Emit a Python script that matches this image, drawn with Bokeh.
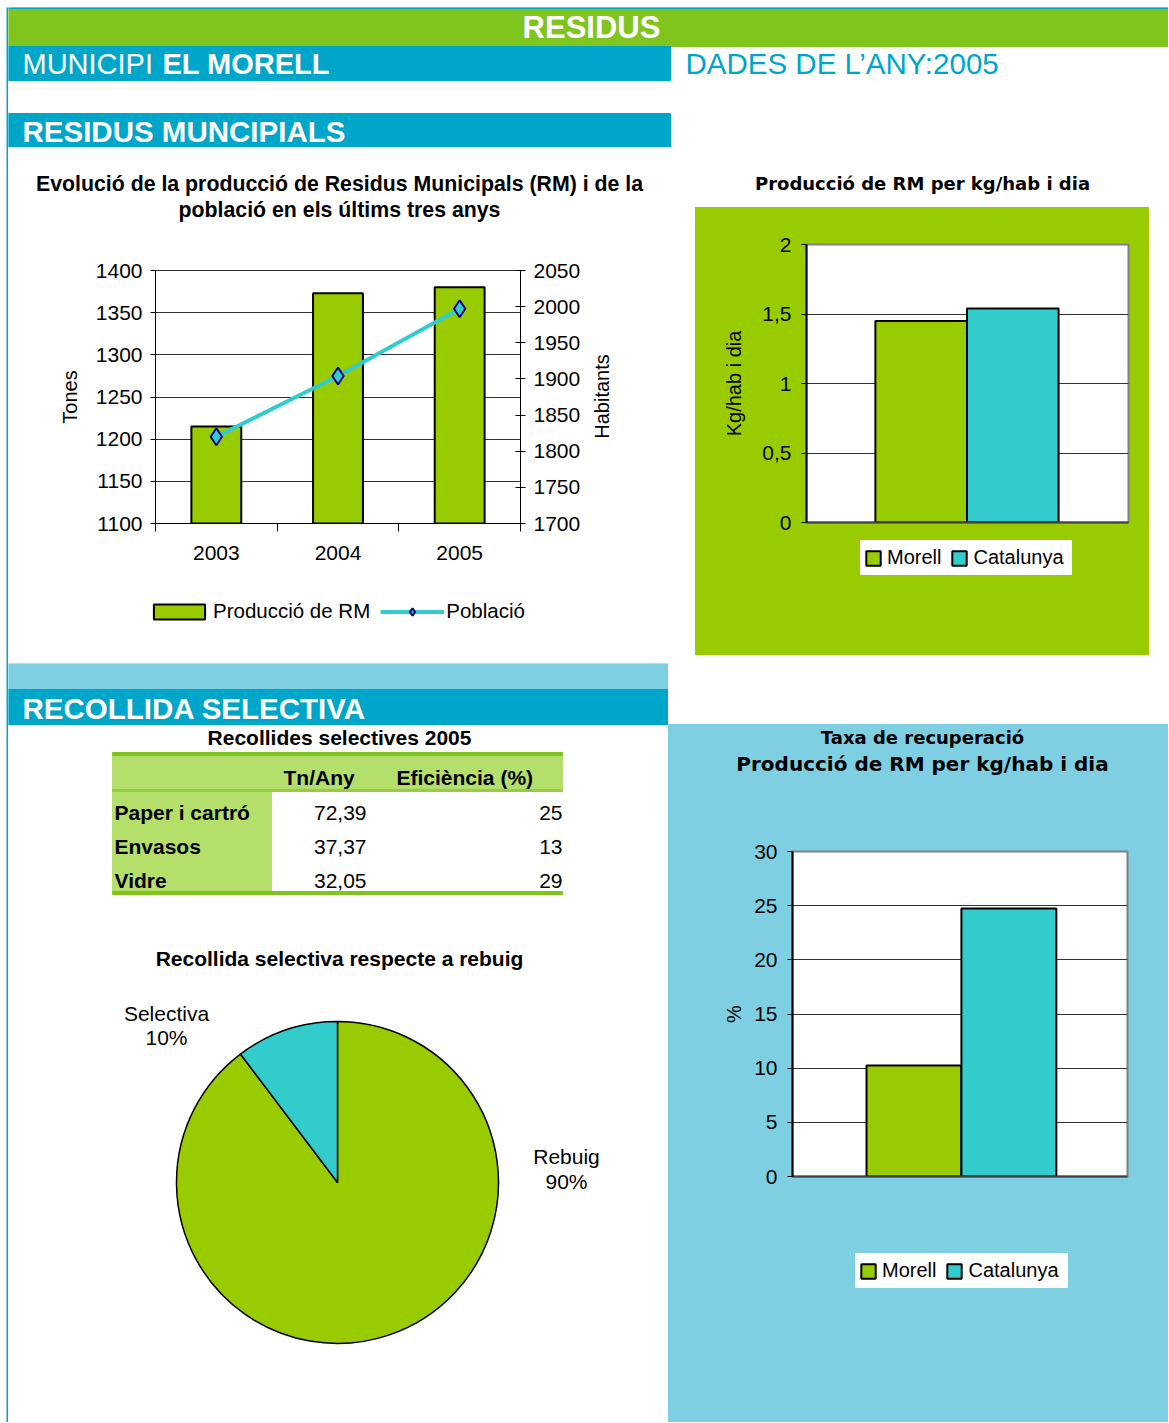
import math
import numpy as np
from bokeh.plotting import figure
from bokeh.layouts import row, column
from bokeh.models import (Range1d, LinearAxis, Plot, SingleIntervalTicker, FixedTicker, Legend,
                          LegendItem, Spacer, CustomJSTickFormatter)
from bokeh.core.properties import value
from bokeh.embed import file_html
from bokeh.resources import INLINE

# ---------------- data ----------------
years = ["2003", "2004", "2005"]
produccio_rm = [1215, 1373, 1380]      # Tones
poblacio = [1820, 1904, 1997]          # Habitants
series_names = ["Producció de RM", "Població"]
axis_names = ["Tones", "Habitants"]

kg_hab_labels = ["Morell", "Catalunya"]
kg_hab_values = [1.45, 1.54]

taxa_labels = ["Morell", "Catalunya"]
taxa_values = [10.25, 24.75]

rs_categories = ["Paper i cartró", "Envasos", "Vidre"]
rs_tn_any = [72.39, 37.37, 32.05]
rs_eficiencia = [25, 13, 29]
rs_columns = ["Tn/Any", "Eficiència (%)"]

pie_labels = ["Rebuig", "Selectiva"]
pie_values = [89.7, 10.3]

# ---------------- styles ----------------
GREEN = "#99cc00"
CYAN = "#33cccc"
PAIR_COLORS = [GREEN, CYAN]
HEAD_GREEN = "#80c41e"
BLUE = "#00a6c9"
LIGHT_BLUE = "#7fcfe3"
TABLE_GREEN = "#b4df6b"
FONT = "Liberation Sans"
FONT_W = "DejaVu Sans"
NAN = np.array([np.nan])   # placeholder so legend swatches can be drawn

COMMON = dict(toolbar_location=None, output_backend="svg")
if "frame_align" in Plot.properties():
    COMMON["frame_align"] = False


def deco(w, h, x0, y0, bg="white"):
    p = figure(width=w, height=h, x_range=Range1d(x0, x0 + w), y_range=Range1d(y0 + h, y0),
               min_border=0, min_border_left=0, min_border_right=0, min_border_top=0,
               min_border_bottom=0, x_axis_location=None, y_axis_location=None,
               background_fill_color=bg, border_fill_color=bg, outline_line_color=None, **COMMON)
    p.grid.visible = False
    return p


def txt(p, x, y, s, size, bold=False, color="black", align="left", baseline="middle", font=FONT,
        angle=0):
    xs = x if isinstance(x, list) else [x]
    ys = y if isinstance(y, list) else [y]
    ss = s if isinstance(s, list) else [s]
    p.text(x=xs, y=ys, text=ss, text_font=value(font), text_font_size=size,
           text_font_style="bold" if bold else "normal", text_color=color,
           text_align=align, text_baseline=baseline, angle=angle)


def style_axis(ax, tick_size="21px"):
    ax.major_label_text_font = FONT
    ax.major_label_text_font_size = tick_size
    ax.major_label_text_color = "black"
    ax.axis_label_text_font = FONT
    ax.axis_label_text_font_size = "20px"
    ax.axis_label_text_font_style = "normal"
    ax.axis_label_text_color = "black"
    ax.axis_line_color = "black"
    ax.major_tick_line_color = "black"
    ax.minor_tick_line_color = None


def add_legend(p, items, loc, glyph_w, glyph_h, spacing, standoff, size="20px"):
    lg = Legend(items=items, orientation="horizontal", location=loc, glyph_width=glyph_w,
                glyph_height=glyph_h, label_text_font=FONT, label_text_font_size=size,
                label_text_color="black", background_fill_alpha=0, border_line_color=None,
                padding=0, margin=0, spacing=spacing, label_standoff=standoff)
    p.add_layout(lg)
    return lg


# ---------------- left border strip ----------------
strip = deco(2, 1415, 6, 8, bg=BLUE)

# ---------------- header (ref x 8..1168, y 7..147) ----------------
H = deco(1160, 140, 8, 7)
H.quad(left=[8], right=[1168], top=[7], bottom=[9], color=BLUE)
H.quad(left=[8], right=[1168], top=[9], bottom=[46], color=HEAD_GREEN)
H.quad(left=[8], right=[670], top=[46], bottom=[80], color=BLUE)
H.quad(left=[8], right=[670], top=[113], bottom=[147], color=BLUE)
txt(H, 591, 27, "RESIDUS", "31px", bold=True, color="white", align="center")
txt(H, 22, 63, "MUNICIPI", "29px", color="white")
txt(H, 162, 63, "EL MORELL", "29px", bold=True, color="white")
txt(H, 685, 63, "DADES DE L’ANY:2005", "29.5px", color=BLUE)
txt(H, 22, 131, "RESIDUS MUNCIPIALS", "29.5px", bold=True, color="white")

# ---------------- chart 1: evolution ----------------
T1 = deco(660, 100, 8, 147)
txt(T1, 339, 183, "Evolució de la producció de Residus Municipals (RM) i de la", "21.3px",
    bold=True, align="center")
txt(T1, 339, 209, "població en els últims tres anys", "21.3px", bold=True, align="center")

x_idx = list(range(len(years)))
c1 = figure(width=582, height=330, x_range=Range1d(-0.5, len(years) - 0.5),
            y_range=Range1d(1100, 1400), min_border_left=147, min_border_right=70,
            min_border_top=23, min_border_bottom=54, outline_line_color="#333333",
            background_fill_color="white", border_fill_color="white", **COMMON)
c1.extra_y_ranges = {"hab": Range1d(1700, 2050)}
c1.xgrid.visible = False
c1.ygrid.grid_line_color = "#333333"

BAR_STYLE = dict(fill_color=GREEN, line_color="black", line_width=2)
LINE_STYLE = dict(line_color=CYAN, line_width=4)
PT_STYLE = dict(marker="diamond", size=17, fill_color=CYAN, line_color="#000080", line_width=2)

c1.vbar(x=x_idx, top=produccio_rm, bottom=1000, width=0.41, **BAR_STYLE)
c1.line(x=x_idx, y=poblacio, y_range_name="hab", **LINE_STYLE)
c1.scatter(x=x_idx, y=poblacio, y_range_name="hab", **PT_STYLE)

xa = c1.xaxis[0]
style_axis(xa)
xa.ticker = FixedTicker(ticks=x_idx, minor_ticks=[i - 0.5 for i in range(len(years) + 1)])
xa.major_label_overrides = {i: y for i, y in zip(x_idx, years)}
xa.major_tick_line_color = None
xa.minor_tick_line_color = "black"
xa.minor_tick_in = 0
xa.minor_tick_out = 8
xa.major_tick_out = 0
xa.major_label_standoff = 14

ya = c1.yaxis[0]
style_axis(ya)
ya.ticker = SingleIntervalTicker(interval=50, num_minor_ticks=0)
ya.major_tick_in = 0
ya.major_tick_out = 5
ya.major_label_standoff = 8
ya.axis_label = axis_names[0]
ya.axis_label_standoff = 12

rax = LinearAxis(y_range_name="hab", ticker=SingleIntervalTicker(interval=50, num_minor_ticks=0))
style_axis(rax)
rax.major_tick_in = 5
rax.major_tick_out = 5
rax.major_label_standoff = 8
c1.add_layout(rax, "right")

# right-axis title, reading bottom to top
RH = deco(78, 330, 590, 247)
txt(RH, 601, 396, axis_names[1], "20px", align="center", angle=math.pi / 2)

# legend strip under chart 1 (ref y 577..663)
L1 = deco(660, 86, 8, 577)
lb = L1.vbar(x=NAN, top=NAN, width=1, **BAR_STYLE)
ll = L1.line(x=NAN, y=NAN, **LINE_STYLE)
lp = L1.scatter(x=NAN, y=NAN, **PT_STYLE)
add_legend(L1, [LegendItem(label=series_names[0], renderers=[lb]),
                LegendItem(label=series_names[1], renderers=[ll, lp])],
           (139, 40), 64, 19, 10, 2, size="20.5px")

# ---------------- chart 2: kg/hab/dia ----------------
T2 = deco(500, 60, 668, 147)
txt(T2, 922, 183, "Producció de RM per kg/hab i dia", "18px", bold=True, align="center", font=FONT_W)


def bar_pair(width, height, labels, values, xr, yr, interval, ylabel, borders, bg,
             label_standoff):
    xs = [i + 0.5 for i in range(len(labels))]
    p = figure(width=width, height=height, x_range=Range1d(*xr), y_range=Range1d(*yr),
               min_border_left=borders[0], min_border_right=borders[1],
               min_border_top=borders[2], min_border_bottom=borders[3],
               background_fill_color="white", border_fill_color=bg,
               outline_line_color="#808080", outline_line_width=2, **COMMON)
    p.xgrid.visible = False
    p.ygrid.grid_line_color = "#333333"
    p.vbar(x=xs, top=values, bottom=0, width=1.0, fill_color=PAIR_COLORS[:len(values)],
           line_color="black", line_width=2)
    ax = p.xaxis[0]
    style_axis(ax)
    ax.ticker = FixedTicker(ticks=[])
    ax.major_tick_out = 0
    ax.major_label_standoff = 0
    ax.axis_line_color = "#404040"
    ax.axis_line_width = 2
    ay = p.yaxis[0]
    style_axis(ay)
    ay.ticker = SingleIntervalTicker(interval=interval, num_minor_ticks=0)
    ay.formatter = CustomJSTickFormatter(code="return tick.toString().replace('.', ',');")
    ay.major_tick_in = 0
    ay.major_tick_out = 5
    ay.major_label_standoff = 10
    ay.axis_label = ylabel
    ay.axis_label_standoff = label_standoff
    ay.axis_line_width = 2
    return p


def pair_legend(p, labels, box, loc):
    p.quad(left=[box[0]], right=[box[1]], top=[box[2]], bottom=[box[3]], color="white")
    items = []
    for lab, col in zip(labels, PAIR_COLORS):
        r = p.vbar(x=NAN, top=NAN, width=1, fill_color=col, line_color="black", line_width=2)
        items.append(LegendItem(label=lab, renderers=[r]))
    add_legend(p, items, loc, 18, 18, 9, 5)


g = bar_pair(454, 330, kg_hab_labels, kg_hab_values, (-0.752, 2.763), (0, 2), 0.5,
             "Kg/hab i dia", (111, 21, 37, 15), GREEN, 14)
GL = deco(454, 118, 695, 537, bg=GREEN)
pair_legend(GL, kg_hab_labels, (860, 1071, 540, 574), (169, 86))

# ---------------- left bottom: table + pie (ref y 663..1422) ----------------
D2 = deco(660, 759, 8, 663)
D2.quad(left=[8], right=[668], top=[663], bottom=[689], color=LIGHT_BLUE)
D2.quad(left=[8], right=[668], top=[689], bottom=[724], color=BLUE)
txt(D2, 22, 708, "RECOLLIDA SELECTIVA", "29.5px", bold=True, color="white")
txt(D2, 339, 737, "Recollides selectives 2005", "21px", bold=True, align="center")

# table
D2.quad(left=[112], right=[562], top=[753], bottom=[790], color=TABLE_GREEN)
D2.quad(left=[112], right=[271], top=[790], bottom=[892], color=TABLE_GREEN)
D2.quad(left=[112], right=[562], top=[752], bottom=[755], color=HEAD_GREEN)
D2.quad(left=[112], right=[562], top=[789], bottom=[791], color="#93cc45")
D2.quad(left=[112], right=[562], top=[891], bottom=[894], color=HEAD_GREEN)
txt(D2, [283, 396], [777, 777], rs_columns, "21px", bold=True)
row_y = [812 + 34 * i for i in range(len(rs_categories))]
txt(D2, [114] * len(rs_categories), row_y, rs_categories, "21px", bold=True)
txt(D2, [366] * len(rs_categories), row_y, [f"{v:.2f}".replace(".", ",") for v in rs_tn_any],
    "21px", align="right")
txt(D2, [562] * len(rs_categories), row_y, [str(v) for v in rs_eficiencia], "21px", align="right")

# pie
txt(D2, 339, 958, "Recollida selectiva respecte a rebuig", "21px", bold=True, align="center")
total = sum(pie_values)
starts, ends = [], []
a = math.pi / 2
for v in pie_values:
    sweep = 2 * math.pi * v / total
    ends.append(a)
    starts.append(a - sweep)
    a -= sweep
D2.wedge(x=337, y=1182, radius=161, start_angle=starts, end_angle=ends,
         fill_color=[GREEN, CYAN], line_color="black", line_width=1.5, direction="anticlock")
pcts = [f"{round(v / total * 100)}%" for v in pie_values]
txt(D2, [566, 166], [1156, 1013], pie_labels, "21px", align="center")
txt(D2, [566, 166], [1181, 1037], pcts, "21px", align="center")

# ---------------- right bottom: taxa de recuperacio ----------------
T4 = deco(500, 100, 668, 724, bg=LIGHT_BLUE)
txt(T4, 922, 737, "Taxa de recuperació", "18px", bold=True, align="center", font=FONT_W)
txt(T4, 922, 763, "Producció de RM per kg/hab i dia", "20px", bold=True, align="center", font=FONT_W)

c4 = bar_pair(500, 376, taxa_labels, taxa_values, (-0.78, 2.75), (0, 30), 5, "%",
              (124, 41, 27, 24), LIGHT_BLUE, 6)
C4L = deco(500, 222, 668, 1200, bg=LIGHT_BLUE)
pair_legend(C4L, taxa_labels, (855, 1067, 1253, 1287), (191, 140))

green_col = column(g, GL, styles={"background-color": GREEN})
blue_col = column(T4, c4, C4L, styles={"background-color": LIGHT_BLUE})

content = column(
    H,
    row(column(T1, row(c1, RH), L1),
        column(T2, row(Spacer(width=27, height=448), green_col, Spacer(width=19, height=448)),
               Spacer(width=500, height=8))),
    row(D2, column(Spacer(width=500, height=61), blue_col)),
)
layout = column(Spacer(width=1168, height=7),
                row(Spacer(width=6, height=1415), strip, content))

with open("out.html", "w") as f:
    f.write(file_html(layout, INLINE, title="Residus"))
